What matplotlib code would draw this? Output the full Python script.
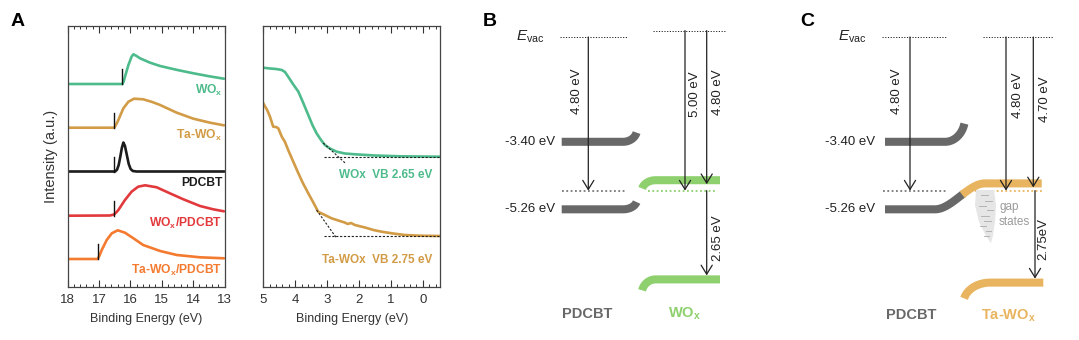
#!/usr/bin/env python3

import matplotlib
matplotlib.use('Agg')
import matplotlib.pyplot as plt
import numpy as np
from matplotlib.ticker import MultipleLocator

plt.rcParams['font.family'] = ['Liberation Sans', 'DejaVu Sans']
plt.rcParams['mathtext.fontset'] = 'custom'
plt.rcParams['mathtext.rm'] = 'Liberation Sans'
plt.rcParams['mathtext.it'] = 'Liberation Sans:italic'
plt.rcParams['mathtext.bf'] = 'Liberation Sans:bold'

# ======================================================================
# Data
# ======================================================================

# UPS secondary-electron cutoff (binding energy in eV, stacked intensity)
wox_cut_E = [18.0, 16.25, 16.21, 16.17, 16.06, 15.96, 15.90, 15.80, 15.69,
             15.37, 15.05, 14.50, 13.99, 13.50, 13.02]
wox_cut_I = [203.0, 203.0, 205.5, 210.3, 222.0, 230.3, 232.7, 231.0, 228.7,
             224.3, 221.0, 217.0, 213.7, 210.8, 208.3]
tawox_cut_E = [18.0, 16.51, 16.45, 16.38, 16.30, 16.22, 16.06, 15.88, 15.59,
               15.30, 15.05, 14.52, 13.99, 13.46, 13.02]
tawox_cut_I = [159.3, 159.3, 162.5, 167.0, 173.0, 178.7, 185.3, 188.3, 187.7,
               185.0, 182.0, 174.3, 168.3, 164.3, 161.7]
pdcbt_cut_E = [18.0, 16.48, 16.42, 16.37, 16.32, 16.27, 16.22, 16.17, 16.11,
               16.05, 15.99, 15.92, 15.80, 13.0]
pdcbt_cut_I = [115.5, 115.5, 117.5, 122.0, 130.0, 139.0, 144.5, 141.0, 132.0,
               123.0, 118.0, 116.0, 115.5, 115.5]
woxp_cut_E = [18.0, 16.65, 16.52, 16.45, 16.38, 16.17, 15.96, 15.75, 15.53,
              15.16, 14.74, 14.31, 13.78, 13.36, 13.02]
woxp_cut_I = [71.3, 71.5, 72.5, 74.5, 77.0, 87.0, 95.3, 100.3, 101.7,
              99.7, 93.7, 87.7, 81.0, 77.7, 75.7]
tawoxp_cut_E = [18.0, 17.04, 16.98, 16.91, 16.75, 16.59, 16.40, 16.17, 15.90,
                15.59, 15.05, 14.52, 13.78, 13.02]
tawoxp_cut_I = [28.0, 28.0, 31.5, 37.0, 47.0, 53.7, 56.7, 54.3, 48.7,
                42.0, 36.0, 32.0, 29.7, 28.7]

cut_labels = [r'WO$_\mathbf{x}$', r'Ta-WO$_\mathbf{x}$', 'PDCBT',
              r'WO$_\mathbf{x}$/PDCBT', r'Ta-WO$_\mathbf{x}$/PDCBT']
cut_onsets = [16.25, 16.51, 16.51, 16.52, 17.04]
cut_label_y = [196.3, 152.0, 104.3, 63.7, 16.3]

# valence band region
wox_vb_E = [5.0, 4.79, 4.60, 4.42, 4.32, 4.22, 4.07, 3.90, 3.76, 3.59, 3.46,
            3.33, 3.19, 3.07, 2.91, 2.70, 2.44, 2.13, 1.50, 0.72, -0.54]
wox_vb_I = [219.3, 218.5, 218.0, 217.0, 215.0, 210.3, 203.0, 195.3, 185.0,
            172.0, 162.0, 153.7, 147.0, 142.0, 138.5, 135.3, 133.5, 132.7,
            131.5, 130.7, 130.3]
tawox_vb_E = [5.0, 4.88, 4.79, 4.69, 4.60, 4.53, 4.42, 4.32, 4.22, 4.07, 3.90,
              3.76, 3.59, 3.44, 3.28, 3.17, 3.07, 2.86, 2.60, 2.45, 2.35, 2.25,
              2.13, 1.81, 1.55, 1.29, 0.93, 0.56, 0.09, -0.54]
tawox_vb_I = [183.7, 177.0, 170.3, 160.3, 160.0, 158.7, 150.3, 145.0, 137.0,
              126.0, 113.7, 104.0, 93.7, 85.0, 75.3, 73.5, 72.0, 68.7, 66.0,
              64.5, 63.0, 64.0, 62.0, 59.5, 57.0, 55.3, 53.5, 52.0, 51.3, 51.0]
vb_onsets = [2.65, 2.75]
vb_baseline = [130.3, 51.0]
vb_tangent_start = [(3.12, 144.0), (3.33, 77.0)]
vb_tangent_end = [2.44, 2.70]
vb_labels = ['WOx  VB 2.65 eV', 'Ta-WOx  VB 2.75 eV']
vb_label_y = [112.0, 27.0]

# energy levels (eV), referenced to the PDCBT vacuum level
pdcbt_lumo = -3.40
pdcbt_homo = -5.26
pdcbt_wf = 4.80
wox_wf = 5.00
wox_cb_depth = 4.80
wox_vb_gap = 2.65
tawox_wf = 4.80
tawox_cb_depth = 4.70
tawox_vb_gap = 2.75

# ======================================================================
# Styles
# ======================================================================

W, H = 1079, 340
GREEN_A = '#4dbb8b'
GOLD_A = '#d29b45'
BLACK = '#1c1c1c'
RED = '#e2393c'
ORANGE = '#f47a2f'
GREEN_B = '#8dd06d'
GOLD_C = '#e9b45f'
GRAY = '#686868'
cut_colors = [GREEN_A, GOLD_A, BLACK, RED, ORANGE]

fig = plt.figure(figsize=(W / 100, H / 100), dpi=100)


def px_rect(x0, y0, x1, y1):
    return [x0 / W, 1 - y1 / H, (x1 - x0) / W, (y1 - y0) / H]


def style_spectrum_axes(ax):
    ax.set_ylim(0, 261)
    ax.set_yticks([])
    ax.xaxis.set_minor_locator(MultipleLocator(0.2))
    ax.tick_params(axis='x', which='both', direction='in', top=True,
                   bottom=True, labelsize=9.5, colors='#333', pad=5)
    ax.tick_params(axis='x', which='major', length=5, width=0.8)
    ax.tick_params(axis='x', which='minor', length=2.5, width=0.7)
    for sp in ax.spines.values():
        sp.set_color('#444')
        sp.set_linewidth(0.9)
    ax.set_xlabel('Binding Energy (eV)', fontsize=9, color='#333',
                  labelpad=5)


# ======================================================================
# A: secondary-electron cutoff
# ======================================================================

ax1 = fig.add_axes(px_rect(67.5, 26, 224.5, 287))
style_spectrum_axes(ax1)
ax1.set_xlim(18, 13)
ax1.set_xticks([18, 17, 16, 15, 14, 13])
ax1.set_ylabel('Intensity (a.u.)', fontsize=10.5, color='#333', labelpad=7)

curves = [(wox_cut_E, wox_cut_I), (tawox_cut_E, tawox_cut_I),
          (pdcbt_cut_E, pdcbt_cut_I), (woxp_cut_E, woxp_cut_I),
          (tawoxp_cut_E, tawoxp_cut_I)]
for (E, I), c, onset, lab, ly in zip(curves, cut_colors, cut_onsets,
                                     cut_labels, cut_label_y):
    ax1.plot(E, I, color=c, lw=1.9, solid_capstyle='round')
    base = I[0]
    ax1.plot([onset, onset], [base, base + 15], color='#111', lw=1.0)
    ax1.text(13.07, ly, lab, ha='right', va='center', fontsize=8.7,
             fontweight='bold', color=c)

# ======================================================================
# A: valence band edge
# ======================================================================

ax2 = fig.add_axes(px_rect(263.3, 26, 440, 287))
style_spectrum_axes(ax2)
ax2.set_xlim(5, -0.54)
ax2.set_xticks([5, 4, 3, 2, 1, 0])

vb_curves = [(wox_vb_E, wox_vb_I), (tawox_vb_E, tawox_vb_I)]
for (E, I), c, vb, base, (e0, i0), e1, lab, ly in zip(
        vb_curves, [GREEN_A, GOLD_A], vb_onsets, vb_baseline,
        vb_tangent_start, vb_tangent_end, vb_labels, vb_label_y):
    ax2.plot(E, I, color=c, lw=1.9)
    slope = (i0 - base) / (e0 - vb)
    ax2.plot([e0, e1], [i0, base + slope * (e1 - vb)], color='#222',
             lw=0.8, ls=(0, (2, 1.5)))
    ax2.plot([3.1, -0.54], [base, base], color='#222', lw=0.8,
             ls=(0, (2, 1.5)))
    ax2.text(-0.31, ly, lab, ha='right', va='center', fontsize=8.5,
             fontweight='bold', color=c)

# ======================================================================
# B, C: energy level diagrams
# ======================================================================

axd = fig.add_axes([470 / W, 0, (W - 470) / W, 1])
axd.set_xlim(470, W)
axd.set_ylim(-(H - 37) / 32, 37 / 32)
axd.axis('off')

BAND_H = 0.25
BAND_LW = 5.8
ARROW = dict(arrowstyle='->,head_length=0.65,head_width=0.4',
             color='#222', lw=0.9, shrinkA=0, shrinkB=0)


def band(x0, x1, yc, color, bend=0.0, bend_w=14, side='right'):
    t = np.linspace(0, 0.97, 30)
    curl = bend * (1 - np.sqrt(1 - t ** 2))
    if side == 'right':
        xs = np.r_[x0, x1 - bend_w + bend_w * t]
    else:
        xs = np.r_[x1, x0 + bend_w - bend_w * t]
    ys = np.r_[yc, yc + curl]
    axd.plot(xs, ys, color=color, lw=BAND_LW, solid_capstyle='butt',
             zorder=2)


def dotted(x0, x1, y, color, lw=1.3, dash=(0, (1, 1.4))):
    axd.plot([x0, x1], [y, y], color=color, lw=lw, ls=dash, zorder=1)


def arrow(x, y0, y1, label, lx, ly):
    axd.annotate('', xy=(x, y1), xytext=(x, y0), arrowprops=ARROW,
                 zorder=4)
    axd.text(lx, ly, label, rotation=90, ha='center', va='center',
             fontsize=9.5, color='#222')


vac_line = dict(color='#222', lw=0.7, dash=(0, (1.2, 1.6)))

# --- B: PDCBT / WOx
pdcbt_ef = -pdcbt_wf
wox_vac = pdcbt_ef + wox_wf
wox_cb = wox_vac - wox_cb_depth
wox_vb = pdcbt_ef - wox_vb_gap

axd.text(516, 0.0, r'$E_{\mathrm{vac}}$', fontsize=11, ha='left',
         va='center', color='#222')
dotted(560, 626.7, 0.0, **vac_line)
dotted(653, 725, wox_vac, **vac_line)
dotted(561.7, 626.7, pdcbt_ef, '#777')
dotted(648, 715, pdcbt_ef, GREEN_B)

band(561.7, 637, pdcbt_lumo + BAND_H / 2, GRAY, bend=0.38)
band(561.7, 637, pdcbt_homo - BAND_H / 2, GRAY, bend=0.30)
band(641.7, 720, wox_cb + BAND_H / 2, GREEN_B, bend=-0.34, side='left')
band(641.7, 720, wox_vb - BAND_H / 2, GREEN_B, bend=-0.45, side='left')

axd.text(555, pdcbt_lumo + BAND_H / 2, f'{pdcbt_lumo:.2f} eV', ha='right',
         va='center', fontsize=9.5, color='#222')
axd.text(555, pdcbt_homo - BAND_H / 2, f'{pdcbt_homo:.2f} eV', ha='right',
         va='center', fontsize=9.5, color='#222')

arrow(588.3, 0.0, pdcbt_ef, f'{pdcbt_wf:.2f} eV', 576.5, -1.70)
arrow(685, wox_vac, pdcbt_ef, f'{wox_wf:.2f} eV', 695.5, -1.78)
arrow(706.7, wox_vac, wox_cb, f'{wox_cb_depth:.2f} eV', 718, -1.72)
arrow(706.7, pdcbt_ef, wox_vb, f'{wox_vb_gap:.2f} eV', 718, -6.30)

axd.text(587.5, -8.65, 'PDCBT', ha='center', va='center', fontsize=10.5,
         fontweight='bold', color=GRAY)
axd.text(684, -8.65, r'WO$_\mathbf{x}$', ha='center', va='center',
         fontsize=10.5, fontweight='bold', color=GREEN_B)

# --- C: PDCBT / Ta-WOx
tawox_vac = pdcbt_ef + tawox_wf
tawox_cb = tawox_vac - tawox_cb_depth
tawox_vb = pdcbt_ef - tawox_vb_gap

axd.text(838, 0.0, r'$E_{\mathrm{vac}}$', fontsize=11, ha='left',
         va='center', color='#222')
dotted(881.7, 946.7, 0.0, **vac_line)
dotted(983.3, 1053.3, tawox_vac, **vac_line)
dotted(883, 948, pdcbt_ef, '#777')
dotted(975, 1041.7, pdcbt_ef, GOLD_C)

band(885, 965, pdcbt_lumo + BAND_H / 2, GRAY, bend=0.75, bend_w=20)
band(963.3, 1043.3, tawox_vb - BAND_H / 2, GOLD_C, bend=-0.65, bend_w=27,
     side='left')

# HOMO of PDCBT bending up into the Ta-WOx conduction band
xs = np.linspace(885, 1041.7, 200)
t = np.clip((xs - 935) / 50, 0, 1)
y_lo = pdcbt_homo - BAND_H / 2
y_hi = tawox_cb + BAND_H / 2
ys = y_lo + (y_hi - y_lo) * t * t * (3 - 2 * t)
split = xs <= 964
axd.plot(xs[split], ys[split], color=GRAY, lw=BAND_LW,
         solid_capstyle='butt', zorder=2)
axd.plot(xs[xs >= 962], ys[xs >= 962], color=GOLD_C, lw=BAND_LW,
         solid_capstyle='butt', zorder=2)

# gap states sketch below the Fermi level
blob_x = [976, 994, 996, 995, 993, 991, 986, 979, 975]
blob_dy = [0.02, 0.02, -0.45, -0.98, -1.39, -1.64, -1.42, -0.98, -0.45]
axd.fill(blob_x, [pdcbt_ef + d for d in blob_dy],
         color='#e6e6e6', lw=0, zorder=1)
for dy, xa, xb in [(-0.15, 981, 988), (-0.32, 985, 992), (-0.48, 979, 986),
                   (-0.62, 987, 993), (-0.78, 981, 989), (-0.95, 984, 991),
                   (-1.10, 980, 986), (-1.25, 986, 991), (-1.42, 984, 989)]:
    axd.plot([xa, xb], [pdcbt_ef + dy, pdcbt_ef + dy], color='#b3b3b3',
             lw=0.7, zorder=1)
axd.text(999, pdcbt_ef - 0.52, 'gap', ha='left', va='center', fontsize=8.5,
         color='#9a9a9a')
axd.text(999, pdcbt_ef - 0.98, 'states', ha='left', va='center',
         fontsize=8.5, color='#9a9a9a')

axd.text(875, pdcbt_lumo + BAND_H / 2, f'{pdcbt_lumo:.2f} eV', ha='right',
         va='center', fontsize=9.5, color='#222')
axd.text(875, pdcbt_homo - BAND_H / 2, f'{pdcbt_homo:.2f} eV', ha='right',
         va='center', fontsize=9.5, color='#222')

arrow(910, 0.0, pdcbt_ef, f'{pdcbt_wf:.2f} eV', 897, -1.68)
arrow(1006, tawox_vac, pdcbt_ef, f'{tawox_wf:.2f} eV', 1018.3, -1.83)
arrow(1033.3, tawox_vac, tawox_cb, f'{tawox_cb_depth:.2f} eV', 1045, -1.94)
arrow(1035, pdcbt_ef, tawox_vb, f'{tawox_vb_gap:.2f}eV', 1043.5, -6.31)

axd.text(911, -8.70, 'PDCBT', ha='center', va='center', fontsize=10.5,
         fontweight='bold', color=GRAY)
axd.text(1008, -8.70, r'Ta-WO$_\mathbf{x}$', ha='center', va='center',
         fontsize=10.5, fontweight='bold', color=GOLD_C)

# panel letters
for lab, x in [('A', 18), ('B', 490), ('C', 807)]:
    fig.text(x / W, 1 - 22 / H, lab, fontsize=14, fontweight='bold',
             ha='center', va='center',
             family=['Liberation Sans Narrow', 'Liberation Sans'])

fig.savefig('out.png', dpi=100)
plt.close()
